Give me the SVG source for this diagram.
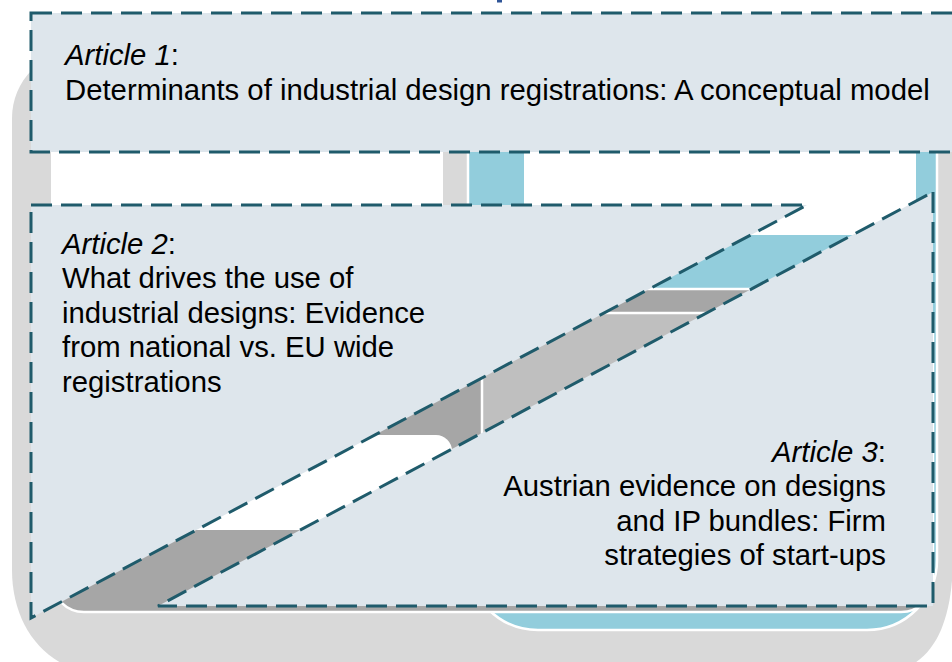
<svg xmlns="http://www.w3.org/2000/svg" width="952" height="662" viewBox="0 0 952 662">
  <defs>
    <style>
      .bg-gray { fill: #d9d9d9; }
      .plate { stroke: #ffffff; stroke-width: 2.5; }
      .box { fill: #dee6ec; stroke: #1f5b6b; stroke-width: 3; stroke-dasharray: 21 9; }
      .label { font-family: "Liberation Sans", Arial, sans-serif; font-size: 29.3px; fill: #000000; }
      .em { font-style: italic; }
    </style>
  </defs>

  <!-- background plates -->
  <g id="background">
    <path class="bg-gray" d="M 12,118 A 68 68 0 0 1 80,50 L 953,50 L 953,555 C 953,630 930,675 870,675 L 110,675 C 50,675 12,630 12,570 Z"/>
    <rect x="497" y="0" width="5" height="2.5" fill="#2f5597"/>
    <rect x="51" y="60" width="392" height="190" fill="#ffffff"/>
    <rect class="plate" x="468" y="60" width="469" height="570" rx="70" fill="#92cddc"/>
    <rect x="524" y="60" width="392" height="175" fill="#ffffff"/>
    <rect class="plate" x="52" y="289" width="881" height="323" rx="32" fill="#a6a6a6"/>
    <rect class="plate" x="482" y="313" width="440" height="290" rx="20" fill="#bfbfbf"/>
    <rect x="100" y="435" width="352" height="95" rx="16" fill="#ffffff"/>
  </g>

  <!-- article boxes -->
  <g id="article-1">
    <rect class="box" x="31" y="13" width="930" height="139"/>
    <text class="label" x="65" y="65"><tspan class="em">Article 1</tspan>:</text>
    <text class="label" x="65" y="99.5">Determinants of industrial design registrations: A conceptual model</text>
  </g>

  <g id="article-2">
    <polygon class="box" points="31,205 807,205 31,618"/>
    <text class="label" x="62" y="253.5"><tspan class="em">Article 2</tspan>:</text>
    <text class="label" x="62" y="288">What drives the use of</text>
    <text class="label" x="62" y="322.5">industrial designs: Evidence</text>
    <text class="label" x="62" y="357">from national vs. EU wide</text>
    <text class="label" x="62" y="391.5">registrations</text>
  </g>

  <g id="article-3">
    <polygon class="box" points="933,192 933,606 158,606"/>
    <text class="label" x="886" y="461.5" text-anchor="end"><tspan class="em">Article 3</tspan>:</text>
    <text class="label" x="886" y="496" text-anchor="end">Austrian evidence on designs</text>
    <text class="label" x="886" y="530.5" text-anchor="end">and IP bundles: Firm</text>
    <text class="label" x="886" y="565" text-anchor="end">strategies of start-ups</text>
  </g>

  <g id="connectors"/>
</svg>
